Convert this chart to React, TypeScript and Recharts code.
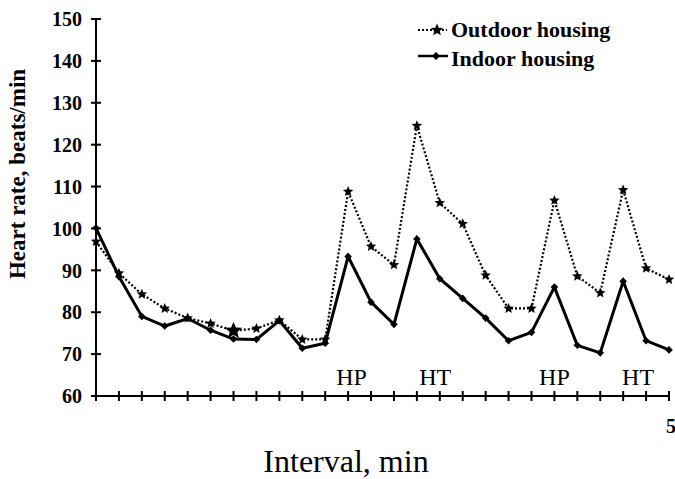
import { LineChart, Line, XAxis, YAxis, Legend, ReferenceDot } from "recharts";

// heart rate by interval
const intervals = [0, 1, 2, 3, 4, 5, 6, 7, 8, 9, 10, 11, 12, 13, 14, 15, 16, 17, 18, 19, 20, 21, 22, 23, 24, 25];
const outdoorHousing = [96.9, 89.3, 84.3, 80.9, 78.6, 77.3, 75.6, 76.1, 78.1, 73.5, 73.5, 108.8, 95.7, 91.3, 124.5, 106.1, 101.1, 88.8, 80.9, 80.9, 106.7, 88.6, 84.6, 109.2, 90.5, 87.8];
const indoorHousing = [100.1, 88.5, 79, 76.7, 78.5, 75.7, 73.6, 73.5, 78, 71.4, 72.6, 93.3, 82.4, 77.1, 97.5, 88, 83.3, 78.6, 73.2, 75.2, 86, 72.1, 70.3, 87.4, 73.2, 71];
const yTicks = [60, 70, 80, 90, 100, 110, 120, 130, 140, 150];
const xTickLabels: Record<number, string> = { 25: "5" };

// HP / HT annotations along the bottom
const phaseLabels = ["HP", "HT", "HP", "HT"];
const phaseAt = [11.15, 14.8, 20, 23.65];
const phaseLevel = 64.6;

const data = intervals.map((t, i) => ({ t, outdoor: outdoorHousing[i], indoor: indoorHousing[i] }));

const FONT = "'Liberation Serif', 'Times New Roman', serif";
const TICK = 5;
const X_MARGIN = 18;
const Y_MARGIN = 9;

const starPath = (cx: number, cy: number, R: number) => {
  const r = R * 0.45;
  let d = "";
  for (let k = 0; k < 10; k++) {
    const rad = k % 2 === 0 ? R : r;
    const a = -Math.PI / 2 + (k * Math.PI) / 5;
    d += (k === 0 ? "M" : "L") + (cx + rad * Math.cos(a)).toFixed(2) + "," + (cy + rad * Math.sin(a)).toFixed(2);
  }
  return d + "Z";
};

const StarDot = (p: any) => {
  if (p.cx == null || p.cy == null) return <g key={p.index} />;
  const R = p.index === 6 ? 9 : 5.5;
  return <path key={p.index} d={starPath(p.cx, p.cy, R)} fill="#000" />;
};

const DiamondDot = (p: any) => {
  if (p.cx == null || p.cy == null) return <g key={p.index} />;
  const s = 3.8;
  return <path key={p.index} d={`M${p.cx},${p.cy - s}L${p.cx + s},${p.cy}L${p.cx},${p.cy + s}L${p.cx - s},${p.cy}Z`} fill="#000" />;
};

const XTick = (props: any) => {
  const { x, y, payload } = props;
  const axisY = y - TICK - X_MARGIN;
  const label = xTickLabels[payload.value];
  return (
    <g>
      <line x1={x} x2={x} y1={axisY - 5} y2={axisY + 5} stroke="#000" strokeWidth={2} />
      {label && (
        <text x={x + 2} y={y} dy="0.71em" textAnchor="middle" fontFamily={FONT} fontWeight="bold" fontSize={20} fill="#000">
          {label}
        </text>
      )}
    </g>
  );
};

const YTick = (props: any) => {
  const { x, y, payload } = props;
  const axisX = x + TICK + Y_MARGIN;
  return (
    <g>
      <line x1={axisX - 5} x2={axisX + 5} y1={y} y2={y} stroke="#000" strokeWidth={2} />
      <text x={x} y={y} dy="0.36em" textAnchor="end" fontFamily={FONT} fontWeight="bold" fontSize={20} fill="#000">
        {payload.value}
      </text>
    </g>
  );
};

const renderLegend = () => (
  <svg width={240} height={62} style={{ display: "block" }}>
    <line x1={3} x2={32} y1={16} y2={16} stroke="#000" strokeWidth={2} strokeDasharray="2 2" />
    <path d={starPath(22, 16, 6.5)} fill="#000" />
    <text x={36} y={23} fontFamily={FONT} fontWeight="bold" fontSize={22} fill="#000">Outdoor housing</text>
    <line x1={3} x2={33} y1={42} y2={42} stroke="#000" strokeWidth={2.5} />
    <path d="M21,38L25,42L21,46L17,42Z" fill="#000" />
    <text x={36} y={52} fontFamily={FONT} fontWeight="bold" fontSize={22} fill="#000">Indoor housing</text>
  </svg>
);

const YLabel = () => (
  <text x={25} y={174} transform="rotate(-90, 25, 174)" textAnchor="middle" fontFamily={FONT} fontWeight="bold" fontSize={23} fill="#000">
    Heart rate, beats/min
  </text>
);

export default function App() {
  return (
    <div style={{ position: "fixed", left: 0, top: 0, width: 675, height: 479, overflow: "hidden", background: "#fff" }}>
      <LineChart width={675} height={479} data={data} margin={{ top: 19, right: 6, left: 0, bottom: 53 }}>
        <XAxis
          dataKey="t"
          type="number"
          domain={[0, 25]}
          ticks={intervals}
          interval={0}
          tick={<XTick />}
          tickLine={false}
          tickSize={TICK}
          tickMargin={X_MARGIN}
          axisLine={{ stroke: "#000", strokeWidth: 2 }}
          height={30}
        />
        <YAxis
          domain={[60, 150]}
          ticks={yTicks}
          interval={0}
          tick={<YTick />}
          tickLine={false}
          tickSize={TICK}
          tickMargin={Y_MARGIN}
          axisLine={{ stroke: "#000", strokeWidth: 2 }}
          width={96}
          label={<YLabel />}
        />
        <Legend layout="vertical" align="center" verticalAlign="middle" content={renderLegend} wrapperStyle={{ top: 14, left: 415, width: 240, height: 62 }} />
        <Line type="linear" dataKey="outdoor" stroke="#000" strokeWidth={2.2} strokeDasharray="2 2" dot={StarDot} activeDot={false} isAnimationActive={false} />
        <Line type="linear" dataKey="indoor" stroke="#000" strokeWidth={3} dot={DiamondDot} activeDot={false} isAnimationActive={false} />
        {phaseLabels.map((lab, i) => (
          <ReferenceDot
            key={i}
            x={phaseAt[i]}
            y={phaseLevel}
            r={0}
            ifOverflow="visible"
            label={{ value: lab, position: "center", fill: "#000", fontSize: 24, fontFamily: FONT }}
          />
        ))}
      </LineChart>
      <div style={{ position: "absolute", left: 0, top: 446, width: 692, height: 30, textAlign: "center", fontFamily: FONT, fontSize: 32, lineHeight: "30px", color: "#000", whiteSpace: "nowrap" }}>
        Interval, min
      </div>
    </div>
  );
}
